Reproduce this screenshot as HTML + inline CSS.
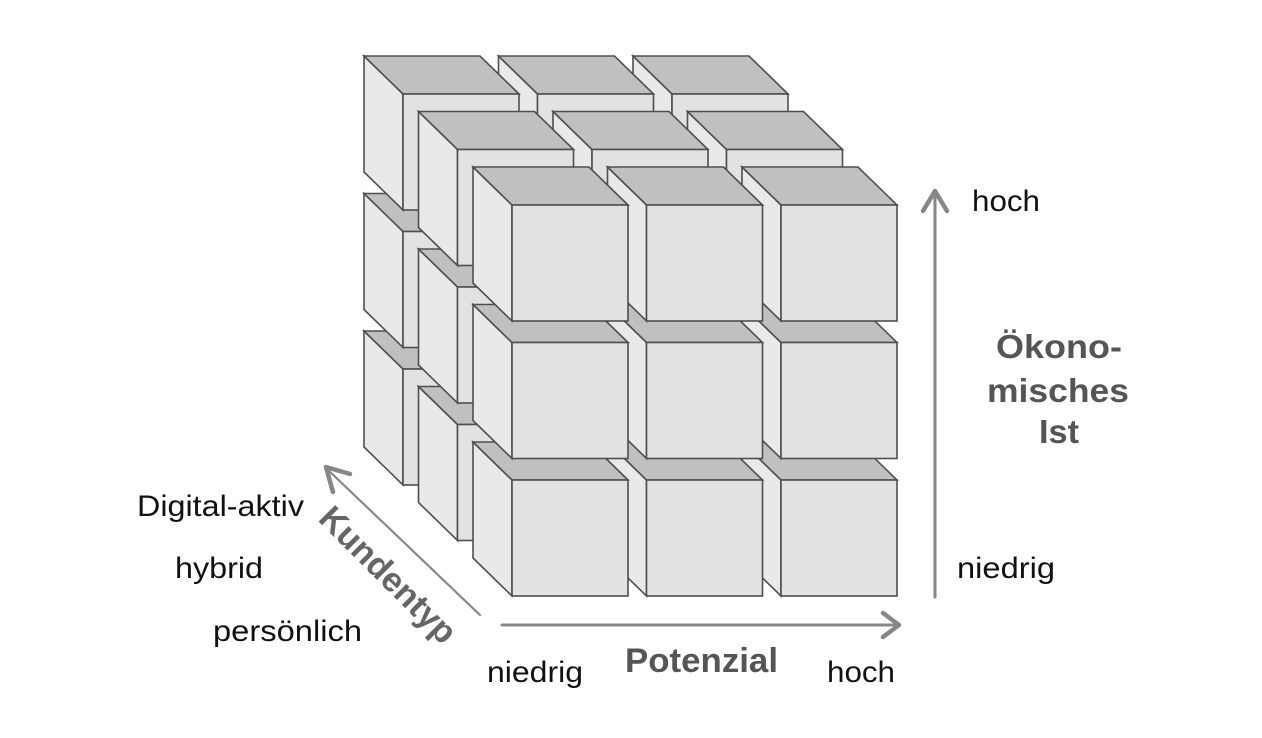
<!DOCTYPE html>
<html>
<head>
<meta charset="utf-8">
<style>
  html, body { margin:0; padding:0; background:#fff; }
  body { width:1262px; height:738px; overflow:hidden; }
  svg { display:block; }
  .lbl { font-family:"Liberation Sans", Arial, sans-serif; fill:#111; font-size:30px; }
  .bold { font-family:"Liberation Sans", Arial, sans-serif; font-weight:bold; fill:#555; }
</style>
</head>
<body>
<svg width="1262" height="738" viewBox="0 0 1262 738" xmlns="http://www.w3.org/2000/svg">
  <defs>
    <g id="cube" stroke="#4f4f4f" stroke-width="1.6" stroke-linejoin="miter">
      <polygon points="-39,-38 0,0 0,116 -39,78" fill="#e9e9e9"/>
      <polygon points="-39,-38 77,-38 116,0 0,0" fill="#c0c0c0"/>
      <rect x="0" y="0" width="116" height="116" fill="#e2e2e2"/>
    </g>
  </defs>

  <!-- back layer -->
  <use href="#cube" x="672" y="369"/>
  <use href="#cube" x="537.5" y="369"/>
  <use href="#cube" x="403" y="369"/>
  <use href="#cube" x="672" y="231.5"/>
  <use href="#cube" x="537.5" y="231.5"/>
  <use href="#cube" x="403" y="231.5"/>
  <use href="#cube" x="672" y="94"/>
  <use href="#cube" x="537.5" y="94"/>
  <use href="#cube" x="403" y="94"/>

  <!-- middle layer -->
  <use href="#cube" x="726.5" y="424.5"/>
  <use href="#cube" x="592" y="424.5"/>
  <use href="#cube" x="457.5" y="424.5"/>
  <use href="#cube" x="726.5" y="287"/>
  <use href="#cube" x="592" y="287"/>
  <use href="#cube" x="457.5" y="287"/>
  <use href="#cube" x="726.5" y="149.5"/>
  <use href="#cube" x="592" y="149.5"/>
  <use href="#cube" x="457.5" y="149.5"/>

  <!-- front layer -->
  <use href="#cube" x="781" y="480"/>
  <use href="#cube" x="646.5" y="480"/>
  <use href="#cube" x="512" y="480"/>
  <use href="#cube" x="781" y="342.5"/>
  <use href="#cube" x="646.5" y="342.5"/>
  <use href="#cube" x="512" y="342.5"/>
  <use href="#cube" x="781" y="205"/>
  <use href="#cube" x="646.5" y="205"/>
  <use href="#cube" x="512" y="205"/>

  <!-- arrows -->
  <g stroke="#878787" fill="none" stroke-linecap="round" stroke-linejoin="round">
    <!-- vertical -->
    <line x1="935" y1="597" x2="935" y2="192" stroke-width="3"/>
    <polyline points="923,211 935,191 947,211" stroke-width="4.5"/>
    <!-- horizontal -->
    <line x1="502" y1="625" x2="897" y2="625" stroke-width="3"/>
    <polyline points="883,613 899,625 883,637" stroke-width="4.5"/>
    <!-- diagonal -->
    <line x1="480" y1="615" x2="327" y2="469" stroke-width="2.2"/>
    <polyline points="350,474 326,467 333,492" stroke-width="4.5"/>
  </g>

  <!-- labels -->
  <text class="lbl" x="972" y="211" textLength="68" lengthAdjust="spacingAndGlyphs">hoch</text>
  <text class="lbl" x="957" y="578" textLength="98" lengthAdjust="spacingAndGlyphs">niedrig</text>
  <text class="lbl" x="487" y="682" textLength="96" lengthAdjust="spacingAndGlyphs">niedrig</text>
  <text class="lbl" x="827" y="682" textLength="68" lengthAdjust="spacingAndGlyphs">hoch</text>
  <text class="lbl" x="137" y="516" textLength="167" lengthAdjust="spacingAndGlyphs">Digital-aktiv</text>
  <text class="lbl" x="175" y="578" textLength="88" lengthAdjust="spacingAndGlyphs">hybrid</text>
  <text class="lbl" x="213" y="641" textLength="149" lengthAdjust="spacingAndGlyphs">persönlich</text>

  <text class="bold" x="625" y="672" font-size="34" textLength="153" lengthAdjust="spacingAndGlyphs">Potenzial</text>

  <text class="bold" x="996" y="358" font-size="33" textLength="126" lengthAdjust="spacingAndGlyphs">Ökono-</text>
  <text class="bold" x="987" y="402" font-size="33" textLength="142" lengthAdjust="spacingAndGlyphs">misches</text>
  <text class="bold" x="1039" y="443" font-size="33" textLength="40" lengthAdjust="spacingAndGlyphs">Ist</text>

  <text class="bold" fill="#666" style="fill:#666" font-size="34" textLength="178" lengthAdjust="spacingAndGlyphs" transform="translate(317,520) rotate(45)">Kundentyp</text>
</svg>
</body>
</html>
